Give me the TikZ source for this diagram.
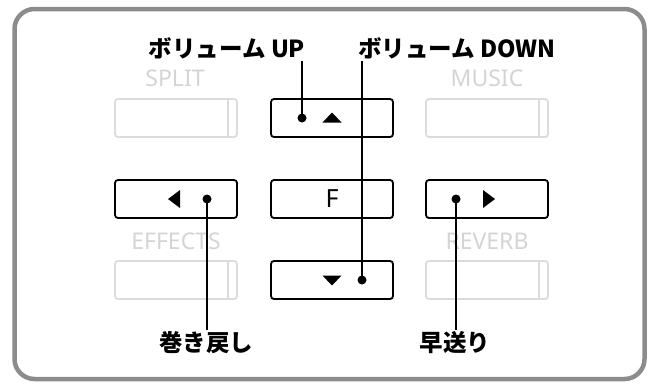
\documentclass[tikz,border=0pt]{standalone}
\usepackage{fontspec}
\setmainfont{Noto Sans}
\newfontfamily\jpfont{Noto Sans CJK JP}
\usetikzlibrary{calc}

\definecolor{framegray}{HTML}{8C8C8C}
\definecolor{keygray}{HTML}{DCDCDC}
\definecolor{namegray}{HTML}{D4D4D4}

\begin{document}
\begin{tikzpicture}[x=1pt, y=-1pt]

\tikzstyle{key}=[draw, line width=1.8pt, rounded corners=3pt, minimum width=122pt, minimum height=38pt, inner sep=0pt]
\tikzstyle{offkey}=[key, draw=keygray]
\tikzstyle{keyname}=[text=namegray, font=\fontsize{23}{23}\selectfont]
\tikzstyle{callout}=[font=\jpfont\bfseries\fontsize{23.5}{23.5}\selectfont, inner sep=2pt]
\tikzstyle{lead}=[line width=1.8pt]
\tikzstyle{dot}=[circle, fill, inner sep=0pt, minimum size=9pt]

\useasboundingbox (0,0) rectangle (653,383);
\draw[framegray, line width=4.5pt, rounded corners=20pt] (14.5,9) rectangle (644.5,379);

% panel keys
\node[offkey] (split) at (176,118) {};
\node[key] (up) at (332,118) {};
\node[offkey] (music) at (487,118) {};
\node[key] (left) at (176,199) {};
\node[key] (f) at (332,199) {\fontsize{25}{25}\selectfont F};
\node[key] (right) at (487,199) {};
\node[offkey] (effects) at (176,280) {};
\node[key] (down) at (332,280) {};
\node[offkey] (reverb) at (487,280) {};

\foreach \k in {split, music, effects, reverb}
  \draw[keygray, line width=1.8pt] ($(\k.north east)+(-10,0)$) -- ($(\k.south east)+(-10,0)$);

\node[keyname] at (175,78) {SPLIT};
\node[keyname] at (487,78) {MUSIC};
\node[keyname] at (176,241) {EFFECTS};
\node[keyname] at (487,241) {REVERB};

% arrow marks
\fill ($(up)+(-9.5,4.5)$) -- ($(up)+(9.5,4.5)$) -- ($(up)+(0,-5.5)$) -- cycle;
\fill ($(down)+(-9.5,-4.5)$) -- ($(down)+(9.5,-4.5)$) -- ($(down)+(0,5.5)$) -- cycle;
\fill ($(left)+(-8,0)$) -- ($(left)+(4,-9)$) -- ($(left)+(4,9)$) -- cycle;
\fill ($(right)+(8,0)$) -- ($(right)+(-4,-9)$) -- ($(right)+(-4,9)$) -- cycle;

% callouts
\node[callout] (lup) at (227,48) {ボリューム UP};
\node[callout] (ldown) at (457,48) {ボリューム DOWN};
\node[callout] (lrew) at (206,343) {巻き戻し};
\node[callout] (lff) at (455,343) {早送り};

\node[dot] (dup) at (302,118) {};
\node[dot] (ddown) at (362,280) {};
\node[dot] (drew) at (207,199) {};
\node[dot] (dff) at (456,199) {};

\draw[lead] (dup.center) -- (dup |- lup.south);
\draw[lead] (ddown.center) -- (ddown |- ldown.south);
\draw[lead] (drew.center) -- (drew |- lrew.north);
\draw[lead] (dff.center) -- (dff |- lff.north);

\end{tikzpicture}
\end{document}
